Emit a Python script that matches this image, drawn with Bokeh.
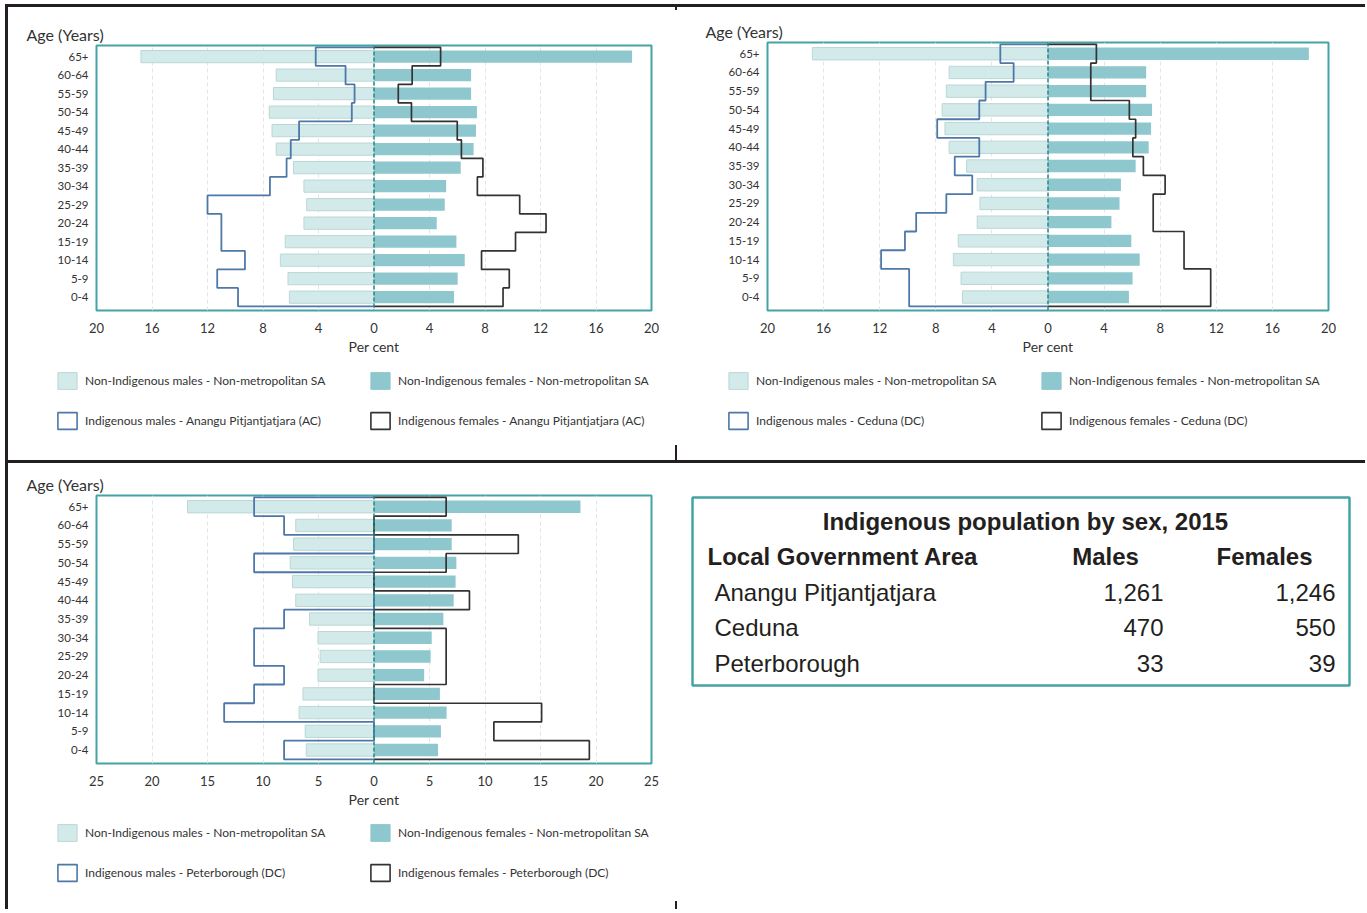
from bokeh.plotting import figure
from bokeh.models import (Range1d, FixedTicker, Span, Legend, LegendItem, Div, Spacer,
                          ColumnDataSource)
from bokeh.layouts import column, row
from bokeh.embed import file_html
from bokeh.resources import INLINE
from bokeh.core.properties import value

# ---------------- data (bottom age group first) ----------------
AGE_GROUPS = ["0-4", "5-9", "10-14", "15-19", "20-24", "25-29", "30-34", "35-39",
              "40-44", "45-49", "50-54", "55-59", "60-64", "65+"]

NONIND_MALES = [6.1, 6.2, 6.75, 6.4, 5.05, 4.85, 5.05, 5.8, 7.05, 7.35, 7.55, 7.25, 7.05, 16.8]
NONIND_FEMALES = [5.77, 6.03, 6.54, 5.94, 4.52, 5.1, 5.2, 6.25, 7.18, 7.35, 7.42, 7.0, 7.0, 18.6]

AP_MALES = [9.8, 11.3, 9.3, 11.0, 11.0, 12.0, 7.5, 6.3, 6.0, 5.4, 1.6, 1.4, 2.05, 4.2]
AP_FEMALES = [9.3, 9.75, 7.75, 10.2, 12.4, 10.5, 7.45, 7.85, 6.3, 6.0, 2.7, 1.75, 2.75, 4.8]

CED_MALES = [9.9, 9.9, 11.9, 10.2, 9.4, 7.25, 5.4, 6.65, 4.9, 7.9, 4.9, 4.45, 2.45, 3.4]
CED_FEMALES = [11.6, 11.6, 9.7, 9.7, 7.5, 7.5, 8.35, 6.8, 6.05, 6.25, 5.8, 3.05, 3.05, 3.45]

PET_MALES = [8.1, 0, 13.5, 10.8, 8.1, 10.8, 10.8, 8.1, 0, 0, 10.8, 0, 8.1, 10.8]
PET_FEMALES = [19.4, 10.8, 15.1, 0, 6.5, 6.5, 6.5, 0, 8.6, 0, 6.5, 13.0, 0, 6.5]

AREAS = ["Anangu Pitjantjatjara (AC)", "Ceduna (DC)", "Peterborough (DC)"]

TABLE_TITLE = "Indigenous population by sex, 2015"
TABLE_HEADERS = ["Local Government Area", "Males", "Females"]
LGA = ["Anangu Pitjantjatjara", "Ceduna", "Peterborough"]
LGA_MALES = [1261, 470, 33]
LGA_FEMALES = [1246, 550, 39]

# ---------------- styles ----------------
TEAL = "#45a3a3"
ZERO_C = "#2a8686"
MALE_FILL = "#d2eaea"
MALE_EDGE = "#bcd6d6"
FEMALE_FILL = "#8ec8ce"
IND_M_C = "#4d78a8"
IND_F_C = "#333333"
TXT = "#333333"
BLACK = "#231f20"
FONT = "Lato"


def steps(vals, sign):
    n = len(vals)
    xs = [0.0]
    ys = [n - 0.5]
    for i in range(n - 1, -1, -1):
        xs += [sign * vals[i], sign * vals[i]]
        ys += [i + 0.5, i - 0.5]
    xs.append(0.0)
    ys.append(-0.5)
    return xs, ys


def pyramid(width, height, borders, xmax, xstep, title_offset, ind_m, ind_f):
    bl, br, bt, bb = borders
    p = figure(width=width, height=height,
               x_range=Range1d(-xmax, xmax), y_range=Range1d(-0.72, 13.6),
               toolbar_location=None, output_backend="svg",
               min_border_left=bl, min_border_right=br,
               min_border_top=bt, min_border_bottom=bb)
    p.background_fill_color = "white"
    p.border_fill_color = "white"
    p.outline_line_color = TEAL
    p.outline_line_width = 2

    idx = list(range(len(AGE_GROUPS)))
    src = ColumnDataSource(dict(y=idx,
                                ml=[-v for v in NONIND_MALES],
                                fr=NONIND_FEMALES))
    p.hbar(y="y", left="ml", right=0, height=0.66, source=src,
           fill_color=MALE_FILL, line_color=MALE_EDGE, line_width=1)
    p.hbar(y="y", left=0, right="fr", height=0.66, source=src,
           fill_color=FEMALE_FILL, line_color=None)

    p.add_layout(Span(location=0, dimension="height", line_color=ZERO_C,
                      line_dash="4 2", line_width=1.5))

    mx, my = steps(ind_m, -1)
    fx, fy = steps(ind_f, 1)
    p.line(mx, my, line_color=IND_M_C, line_width=1.8)
    p.line(fx, fy, line_color=IND_F_C, line_width=1.7)

    # axes
    xt = FixedTicker(ticks=list(range(-xmax, xmax + 1, xstep)))
    p.xaxis.ticker = xt
    p.xgrid.ticker = xt
    p.xaxis.major_label_overrides = {t: str(abs(t)) for t in range(-xmax, xmax + 1, xstep)}
    p.xaxis.axis_label = "Per cent"
    p.yaxis.ticker = FixedTicker(ticks=idx)
    p.yaxis.major_label_overrides = {i: AGE_GROUPS[i] for i in idx}
    for ax in (p.xaxis, p.yaxis):
        ax.axis_line_color = None
        ax.major_tick_line_color = None
        ax.minor_tick_line_color = None
        ax.major_tick_out = 0
        ax.major_tick_in = 0
        ax.major_label_text_font = FONT
        ax.major_label_text_color = TXT
    p.xaxis.major_label_text_font_size = "13px"
    p.xaxis.major_label_standoff = 12
    p.xaxis.axis_label_text_font = FONT
    p.xaxis.axis_label_text_font_size = "14px"
    p.xaxis.axis_label_text_font_style = "normal"
    p.xaxis.axis_label_text_color = TXT
    p.xaxis.axis_label_standoff = 2
    p.yaxis.major_label_text_font_size = "11.5px"
    p.yaxis.major_label_standoff = 8

    p.xgrid.grid_line_color = "#e4e4e4"
    p.xgrid.grid_line_dash = "4 3"
    p.ygrid.visible = False

    p.title.text = "Age (Years)"
    p.title.align = "left"
    p.title.offset = title_offset
    p.title.text_font = FONT
    p.title.text_font_size = "16px"
    p.title.text_font_style = "normal"
    p.title.text_color = TXT
    p.title.standoff = 3
    return p


def legend_fig(width, height, area, loc):
    lf = figure(width=width, height=height, x_range=Range1d(0, 1), y_range=Range1d(0, 1),
                toolbar_location=None, output_backend="svg",
                x_axis_location=None, y_axis_location=None,
                min_border_left=0, min_border_right=0, min_border_top=0, min_border_bottom=0)
    lf.xgrid.visible = False
    lf.ygrid.visible = False
    lf.outline_line_color = None
    lf.background_fill_color = "white"
    lf.border_fill_color = "white"
    # legend proxies: one off-screen box each (outside the 0..1 ranges, never visible)
    proxy = dict(left=[-3], right=[-2], top=[-2], bottom=[-3])
    r_nm = lf.quad(**proxy, fill_color=MALE_FILL, line_color=MALE_EDGE, line_width=1)
    r_nf = lf.quad(**proxy, fill_color=FEMALE_FILL, line_color=FEMALE_FILL, line_width=1)
    r_im = lf.quad(**proxy, fill_color="white", line_color=IND_M_C, line_width=1.6)
    r_if = lf.quad(**proxy, fill_color="white", line_color=IND_F_C, line_width=1.6)
    legend = Legend(items=[
        LegendItem(label="Non-Indigenous males - Non-metropolitan SA", renderers=[r_nm]),
        LegendItem(label="Non-Indigenous females - Non-metropolitan SA", renderers=[r_nf]),
        LegendItem(label="Indigenous males - " + area, renderers=[r_im]),
        LegendItem(label="Indigenous females - " + area, renderers=[r_if]),
    ], location=loc, orientation="horizontal", ncols=2,
        glyph_width=24, glyph_height=21, label_width=264, label_height=21,
        spacing=19, label_standoff=6, padding=0, margin=0,
        border_line_color=None, background_fill_alpha=0,
        label_text_font=FONT, label_text_font_size="12px", label_text_color=TXT)
    lf.add_layout(legend)
    return lf


p1 = pyramid(667, 355, (88, 24, 38, 52), 20, 4, -70, AP_MALES, AP_FEMALES)
l1 = legend_fig(667, 98, AREAS[0], (47, 29))
p2 = pyramid(688, 355, (90, 37, 35, 52), 20, 4, -62, CED_MALES, CED_FEMALES)
l2 = legend_fig(688, 98, AREAS[1], (49, 29))
p3 = pyramid(667, 352, (88, 24, 32, 52), 25, 5, -70, PET_MALES, PET_FEMALES)
l3 = legend_fig(667, 94, AREAS[2], (47, 26))

# ---------------- table (coordinates in px from the figure's top-left) ----------------
T_W, T_H = 688, 446
T_BL, T_BR, T_BT, T_BB = 10, 10, 32, 146
t = figure(width=T_W, height=T_H,
           x_range=Range1d(T_BL, T_W - T_BR), y_range=Range1d(T_H - T_BB, T_BT),
           toolbar_location=None, output_backend="svg",
           x_axis_location=None, y_axis_location=None,
           min_border_left=T_BL, min_border_right=T_BR,
           min_border_top=T_BT, min_border_bottom=T_BB)
t.xgrid.visible = False
t.ygrid.visible = False
t.outline_line_color = None
t.background_fill_color = "white"
t.border_fill_color = "white"

BOX = dict(left=15, right=672, top=34, bottom=222)
t.quad(left=[BOX["left"]], right=[BOX["right"]], top=[BOX["top"]], bottom=[BOX["bottom"]],
       fill_color=None, line_color=TEAL, line_width=2.5)

TFONT = value("Liberation Sans")
TSIZE = "24px"
TITLE_X, TITLE_Y = 348, 58
HEAD_Y = 93
COL_LEFT = 30
COL_LABEL = 37
HEAD_MALES = 428
HEAD_FEMALES = 587
COL_MALES = 486
COL_FEMALES = 658
ROW_STEP = 35.5

t.text(x=[TITLE_X], y=[TITLE_Y], text=[TABLE_TITLE], text_font=TFONT,
       text_font_size=TSIZE, text_font_style="bold", text_align="center",
       text_baseline="middle", text_color=BLACK)
t.text(x=[COL_LEFT], y=[HEAD_Y], text=[TABLE_HEADERS[0]], text_font=TFONT,
       text_font_size=TSIZE, text_font_style="bold", text_align="left",
       text_baseline="middle", text_color=BLACK)
t.text(x=[HEAD_MALES, HEAD_FEMALES], y=[HEAD_Y, HEAD_Y], text=TABLE_HEADERS[1:],
       text_font=TFONT, text_font_size=TSIZE, text_font_style="bold",
       text_align="center", text_baseline="middle", text_color=BLACK)
row_y = [HEAD_Y + (i + 1) * ROW_STEP for i in range(len(LGA))]
t.text(x=[COL_LABEL] * len(LGA), y=row_y, text=LGA, text_font=TFONT,
       text_font_size=TSIZE, text_align="left", text_baseline="middle", text_color=BLACK)
t.text(x=[COL_MALES] * len(LGA), y=row_y, text=[f"{v:,}" for v in LGA_MALES],
       text_font=TFONT, text_font_size=TSIZE, text_align="right",
       text_baseline="middle", text_color=BLACK)
t.text(x=[COL_FEMALES] * len(LGA), y=row_y, text=[f"{v:,}" for v in LGA_FEMALES],
       text_font=TFONT, text_font_size=TSIZE, text_align="right",
       text_baseline="middle", text_color=BLACK)


# ---------------- frame lines ----------------
def bar(w, h):
    return Div(text="", width=w, height=h, margin=0,
               styles={"background-color": BLACK})


def gap(w, h):
    return Spacer(width=w, height=h, margin=0)


top_line = row(gap(5, 3), bar(1360, 3))
left_line = bar(3, 902)
mid_line = bar(1357, 3)
tick1 = column(bar(2, 3), gap(2, 435), bar(2, 15))
tick2 = column(gap(2, 438), bar(2, 8))

cell1 = column(p1, row(l1))
cell2 = column(p2, row(l2))
cell3 = column(p3, row(l3))

layout = column(
    gap(10, 4),
    top_line,
    row(gap(5, 10), left_line,
        column(row(cell1, tick1, cell2),
               mid_line,
               row(cell3, tick2, t))))

open("out.html", "w").write(file_html(layout, INLINE, title="Indigenous population pyramids"))
